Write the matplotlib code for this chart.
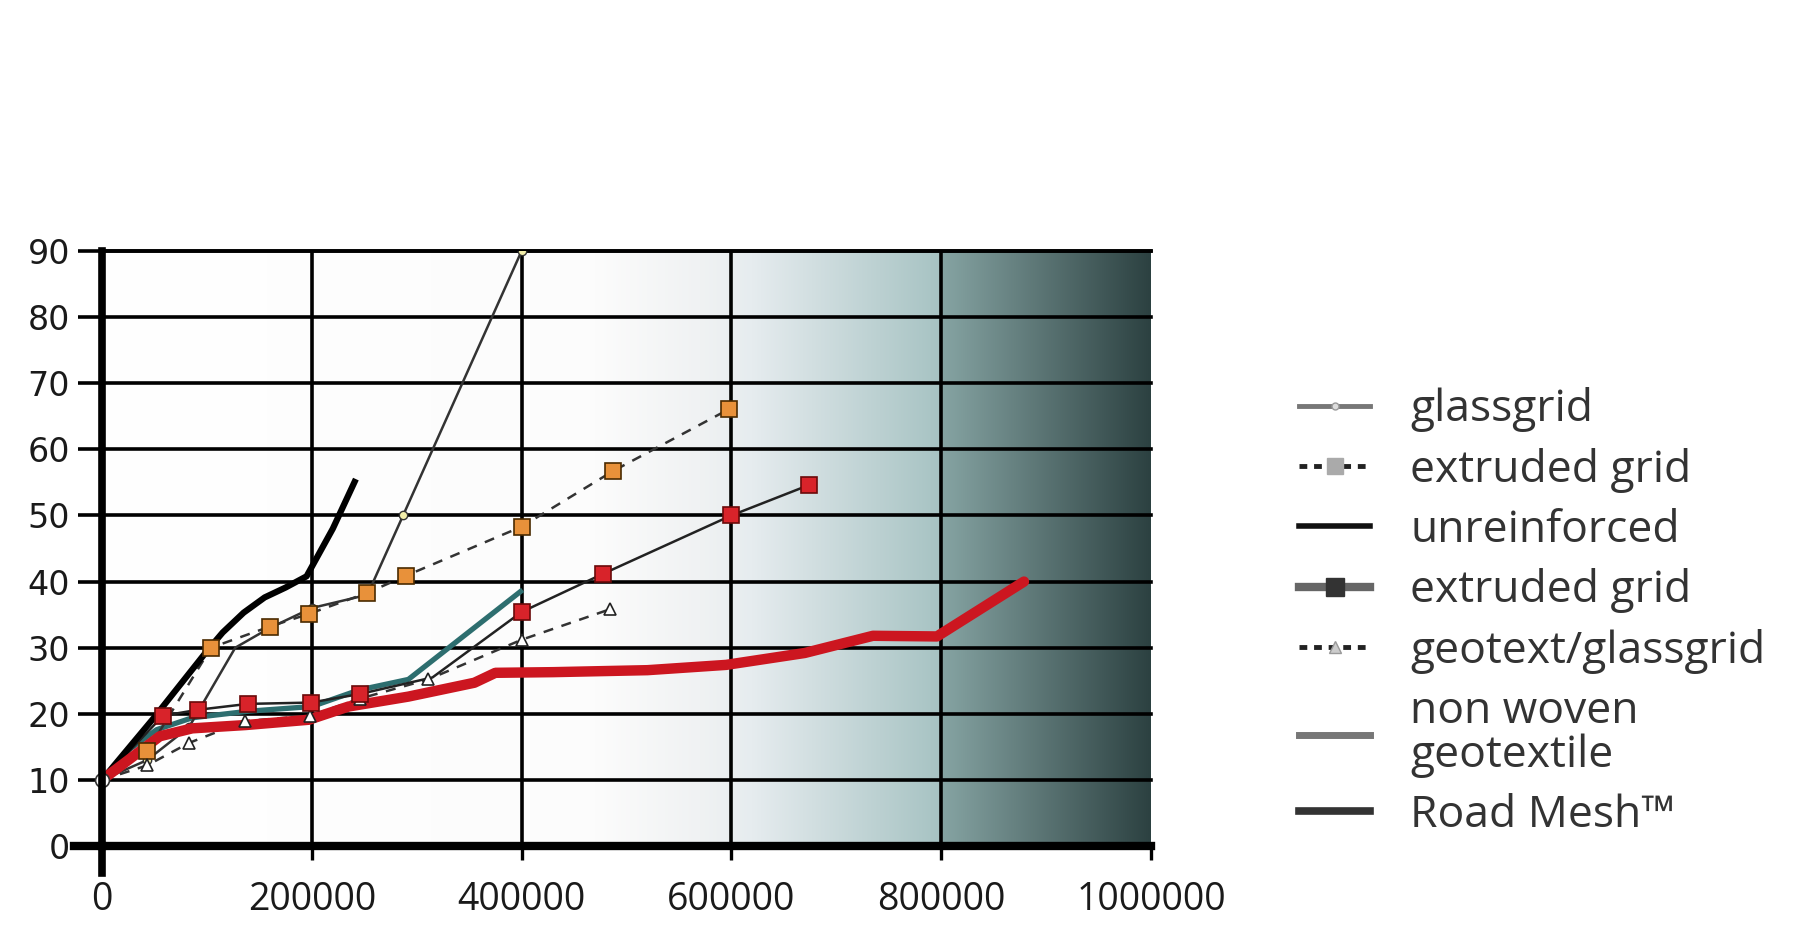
import numpy as np
import matplotlib
matplotlib.use("Agg")
import matplotlib.pyplot as plt
from matplotlib.lines import Line2D
from matplotlib.colors import to_rgb

plt.rcParams['font.family'] = ['Open Sans', 'DejaVu Sans']

# --- data (load cycles vs. rut / crack value) ---
start = (0, 10)

glass_x = [0, 43000, 83000, 127000, 160000, 200000, 253000, 287000, 400000]
glass_y = [10, 13, 18, 30, 33, 36, 38, 50, 90]

extr1_x = [0, 43000, 104000, 160000, 197000, 253000, 290000, 400000, 487000, 598000]
extr1_y = [10, 14.3, 30, 33.2, 35.1, 38.3, 40.9, 48.3, 56.7, 66.1]

unre_x = [0, 50000, 100000, 115000, 135000, 155000, 175000, 195000, 220000, 242000]
unre_y = [10, 19.5, 29.5, 32.3, 35.3, 37.6, 39.1, 40.8, 48, 55.5]

extr2_x = [0, 58000, 91000, 139000, 199000, 246000, 315000, 400000, 478000, 600000, 674000]
extr2_y = [10, 19.7, 20.6, 21.5, 21.7, 23, 25.5, 35.4, 41.2, 50, 54.6]

geo_x = [0, 43000, 83000, 136000, 198000, 246000, 311000, 400000, 484000]
geo_y = [10, 12.2, 15.6, 18.9, 19.7, 22.3, 25.2, 31.2, 35.8]

nonw_x = [0, 25000, 52000, 86000, 140000, 200000, 245000, 292000, 399000]
nonw_y = [10, 14.5, 17.6, 19.4, 20.4, 21.1, 23.6, 25.2, 38.5]

road_x = [0, 25000, 55000, 86000, 137000, 197000, 235000, 292000, 355000, 375000,
          430000, 520000, 595000, 670000, 735000, 796000, 879000]
road_y = [10, 13, 16.6, 17.8, 18.3, 19.1, 21.1, 22.6, 24.7, 26.2,
          26.3, 26.6, 27.4, 29.2, 31.8, 31.7, 40]

x_ticks = [0, 200000, 400000, 600000, 800000, 1000000]
x_labels = ['0', '200000', '400000', '600000', '800000', '1000000']
y_ticks = [0, 10, 20, 30, 40, 50, 60, 70, 80, 90]

legend_labels = ['glassgrid', 'extruded grid', 'unreinforced', 'extruded grid',
                 'geotext/glassgrid', 'non woven\ngeotextile', 'Road Mesh\u2122']

fig = plt.figure(figsize=(18, 9.33), dpi=100)
ax = fig.add_axes([0.0567, 0.0932, 0.5827, 0.6378])

# background gradient on the right part of the plot
stops = [0, 470000, 570000, 620000, 799000, 801000, 1000000]
cols = ['#ffffff', '#fcfcfc', '#f0f2f3', '#e6ecef', '#a7c3c3', '#86a4a3', '#2c4141']
gx = np.linspace(0, 1e6, 1000)
rgb = np.array([to_rgb(c) for c in cols])
img = np.stack([np.interp(gx, stops, rgb[:, k]) for k in range(3)], axis=-1)[None, :, :]
ax.imshow(img, extent=[0, 1e6, 0, 90], aspect='auto', zorder=0, interpolation='bilinear')

ax.set_xlim(0, 1e6)
ax.set_ylim(0, 90)

# grid
for yv in y_ticks[1:]:
    ax.axhline(yv, color='black', lw=2.6, zorder=1, clip_on=False)
for xv in x_ticks[1:-1]:
    ax.axvline(xv, color='black', lw=2.6, zorder=1)

dash = (0, (4, 3.5))
ax.plot(nonw_x, nonw_y, color='#2d6e6f', lw=3.8, zorder=3)
ax.plot(glass_x, glass_y, color='#333333', lw=1.8, marker='o', ms=6,
        mfc='#f3efaa', mec='#333333', mew=1, markevery=[1, 2, 5, 6, 7, 8], zorder=4)
ax.plot(extr1_x, extr1_y, color='#333333', lw=1.8, ls=dash, zorder=4)
ax.plot(extr1_x[1:], extr1_y[1:], ls='None', marker='s', ms=11,
        mfc='#e8913a', mec='#4a2a00', mew=1.2, zorder=6)
ax.plot(geo_x, geo_y, color='#333333', lw=1.8, ls=dash, zorder=4)
ax.plot(geo_x[1:], geo_y[1:], ls='None', marker='^', ms=9,
        mfc='white', mec='#222222', mew=1.2, zorder=6)
ax.plot(extr2_x, extr2_y, color='#222222', lw=1.8, zorder=4)
ax.plot(extr2_x, extr2_y, ls='None', marker='s', ms=11.5,
        mfc='#d8232a', mec='#6a0a0a', mew=1.2, markevery=[1, 2, 3, 4, 5, 7, 8, 9, 10], zorder=6)
ax.plot(unre_x, unre_y, color='black', lw=4.5, zorder=5, solid_capstyle='butt')
ax.plot(road_x, road_y, color='#cc1620', lw=7.5, zorder=5, solid_capstyle='round')
ax.plot([start[0]], [start[1]], ls='None', marker='o', ms=10, mfc='white',
        mec='#333333', mew=1.2, zorder=7, clip_on=False)

# axes styling
ax.spines['right'].set_visible(False)
ax.spines['top'].set_linewidth(2.6)
ax.spines['left'].set_linewidth(5.5)
ax.spines['bottom'].set_linewidth(6)
ax.spines['left'].set_zorder(8)
ax.spines['bottom'].set_zorder(8)
ax.axvline(0, ymin=-0.045, ymax=0, color='black', lw=5.5, clip_on=False, zorder=8)
ax.axhline(0, xmin=-0.027, xmax=0, color='black', lw=6, clip_on=False, zorder=8)

ax.set_xticks(x_ticks, x_labels)
ax.set_yticks(y_ticks)
ax.tick_params(axis='x', direction='out', length=10, width=2.4, pad=15,
               labelsize=27, labelcolor='#1a1a1a')
ax.tick_params(axis='y', direction='out', length=17, width=2.6, pad=6,
               labelsize=24, labelcolor='#1a1a1a')
for lab in ax.get_yticklabels():
    lab.set_family('DejaVu Sans')

# legend (grayscale handles as in the original)
handles = [
    Line2D([], [], color='#777777', lw=3.5, marker='o', ms=5, mfc='#dddddd', mec='#999999'),
    Line2D([], [], color='#222222', lw=3.5, ls=(0, (1.6, 1.4)), marker='s', ms=11,
           mfc='#aaaaaa', mec='#aaaaaa'),
    Line2D([], [], color='#111111', lw=4),
    Line2D([], [], color='#666666', lw=6, marker='s', ms=13, mfc='#333333', mec='#333333'),
    Line2D([], [], color='#222222', lw=3.5, ls=(0, (1.6, 1.4)), marker='^', ms=9,
           mfc='#cccccc', mec='#999999'),
    Line2D([], [], color='#777777', lw=5),
    Line2D([], [], color='#333333', lw=5.5),
]
leg = fig.legend(handles, legend_labels, loc='upper left', bbox_to_anchor=(0.712, 0.604),
                 frameon=False, fontsize=32, labelspacing=0.35, handlelength=1.6,
                 handletextpad=0.9, labelcolor='#333333', borderaxespad=0)
leg.get_texts()[5].set_linespacing(0.97)

fig.savefig('out.png', dpi=100, facecolor='white')
